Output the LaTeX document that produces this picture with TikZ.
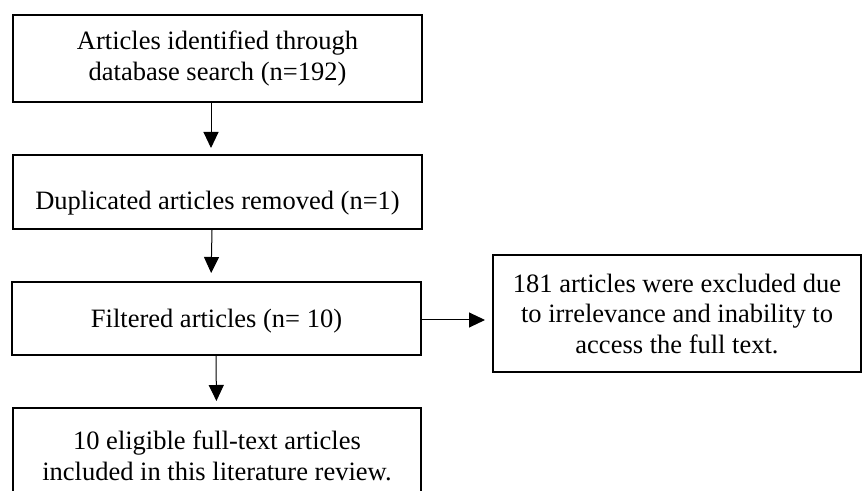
\documentclass[tikz,border=0pt]{standalone}
\usepackage{fontspec}
\setmainfont{Liberation Serif}
\usetikzlibrary{arrows.meta}
\begin{document}
\begin{tikzpicture}[x=0.5pt,y=-0.5pt,
  box/.style={draw=black,line width=1pt,rectangle,inner sep=0pt,align=center,
    font=\fontsize{13.25pt}{15.25pt}\selectfont},
  arr/.style={line width=0.5pt,-{Triangle[length=8pt,width=7.5pt]}}]
\useasboundingbox (0,0) rectangle (862,491);
\clip (0,0) rectangle (862,491);
\node[box,minimum width=204.5pt,minimum height=43.5pt] (b1) at (217.5,58.5)
  {Articles identified through\\database search (n=192)};
\node[box,minimum width=204.5pt,minimum height=37pt,text height=18pt,text depth=0pt] (b2) at (217.5,192)
  {Duplicated articles removed (n=1)};
\node[box,minimum width=204.5pt,minimum height=36.5pt,text height=9.5pt,text depth=0pt] (b3) at (216.5,318.5)
  {Filtered articles (n= 10)};
\node[box,minimum width=204pt,minimum height=48pt] (b4) at (217,456)
  {10 eligible full-text articles\\included in this literature review.};
\node[box,minimum width=184pt,minimum height=58.5pt] (b5) at (677,313.5)
  {181 articles were excluded due\\to irrelevance and inability to\\access the full text.};
\draw[arr,shorten >=3pt] ([xshift=-3.25pt]b1.south) -- ([xshift=-3.25pt]b2.north);
\draw[arr,shorten >=4pt] ([xshift=-2.75pt]b2.south) -- ([xshift=-2.75pt]b3.north);
\draw[arr,shorten >=3pt] ([xshift=-0.25pt]b3.south) -- ([xshift=-0.25pt]b4.north);
\draw[arr,shorten >=3.5pt] ([yshift=-0.75pt]b3.east) -- ([yshift=-0.75pt]b3.east -| b5.west);
\end{tikzpicture}
\end{document}
